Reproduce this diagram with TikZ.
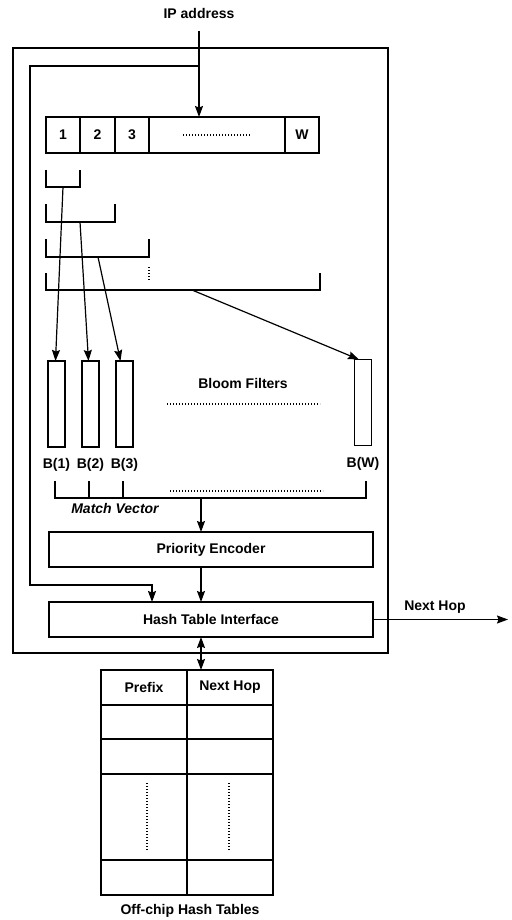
\documentclass[tikz,border=0pt]{standalone}
\usepackage{fontspec}
\setmainfont{Liberation Sans}
\usetikzlibrary{arrows.meta, positioning}

\begin{document}
\begin{tikzpicture}[
    x=1pt, y=-1pt,
    line width=1.2pt,
    every node/.style={font=\fontsize{14}{16}\selectfont\bfseries, inner sep=0pt, outer sep=0pt},
    arrow/.style={-{Stealth[length=11pt,width=8pt,inset=1.5pt]}},
    darrow/.style={{Stealth[length=11pt,width=8pt,inset=1.5pt]}-{Stealth[length=11pt,width=8pt,inset=1.5pt]}},
    cell/.style={draw, minimum height=36pt},
    filter/.style={draw, minimum width=17pt, minimum height=86pt},
    block/.style={draw, minimum width=324pt, minimum height=35pt},
    tabcell/.style={draw, minimum width=86pt},
    dots/.style={line width=1.4pt, dash pattern=on 1.2pt off 1.8pt}
    ]
    \useasboundingbox (0,0) rectangle (511,920);

    % Chip boundary and input
    \node[draw, minimum width=375pt, minimum height=605pt] (chip) at (200.5,350.5) {};
    \node (ip) at (199,13) {IP address};

    % Address bits
    \node[cell, minimum width=34pt] (a1) at (63,135) {1};
    \node[cell, minimum width=35pt, right=0pt of a1] (a2) {2};
    \node[cell, minimum width=34pt, right=0pt of a2] (a3) {3};
    \node[cell, minimum width=136pt, right=0pt of a3] (adots) {};
    \node[cell, minimum width=34pt, right=0pt of adots] (aw) {W};
    \draw[dots] ([xshift=-34pt]adots.center) -- ([xshift=34pt]adots.center);

    % Prefix brackets
    \draw (46,170) -- (46,187) -- (80,187) -- (80,170);
    \draw (46,204) -- (46,222) -- (115,222) -- (115,204);
    \draw (46,239) -- (46,257) -- (149,257) -- (149,239);
    \draw (46,273) -- (46,290) -- (320,290) -- (320,273);
    \draw[dots] (149,267) -- (149,281);
    \coordinate (g1) at (63,187);
    \coordinate (g2) at (80,222);
    \coordinate (g3) at (98,257);
    \coordinate (gw) at (192,290);

    % Bloom filters
    \node[filter] (b1) at (56.5,404) {};
    \node[filter] (b2) at (90.5,404) {};
    \node[filter] (b3) at (124.5,404) {};
    \node[filter] (bw) at (363,402.5) {};
    \node[below=11pt of b1] (lb1) {B(1)};
    \node[below=11pt of b2] (lb2) {B(2)};
    \node[below=11pt of b3] (lb3) {B(3)};
    \node[below=12pt of bw] (lbw) {B(W)};
    \node (bf) at (243,383) {Bloom Filters};
    \draw[dots] (167,404) -- (320,404);

    % Arrows from brackets to filters
    \draw[arrow] (g1) -- ([xshift=-1pt]b1.north);
    \draw[arrow] (g2) -- ([xshift=-2pt]b2.north);
    \draw[arrow] (g3) -- ([xshift=-4pt]b3.north);
    \draw[arrow] (gw) -- ([xshift=-4pt]bw.north);

    % Match vector
    \draw (55,481) -- (55,498) -- (366,498) -- (366,481);
    \draw (89,481) -- (89,498);
    \draw (123,481) -- (123,498);
    \draw[dots] (170,491) -- (323,491);
    \node[font=\fontsize{14}{16}\selectfont\bfseries\itshape] (mvl) at (115,508) {Match Vector};
    \coordinate (mv) at (201,498);

    % Encoder and interface
    \node[block] (pe) at (211,549.5) {Priority Encoder};
    \node[block, below=35pt of pe] (hti) {Hash Table Interface};
    \draw[arrow] (mv) -- (mv |- pe.north);
    \draw[arrow] (mv |- pe.south) -- (mv |- hti.north);

    % Address input and bypass to interface
    \coordinate (split) at (199,66);
    \coordinate (loop) at (30,585);
    \draw[arrow] ([yshift=-13pt]ip.south) -- (ip |- adots.north);
    \draw[arrow] (split) -| (loop) -| ([xshift=-59pt]hti.north);

    % Output
    \coordinate (out) at (508,619.5);
    \draw[arrow] (hti.east) -- (out);
    \node (nh) at (435,607) {Next Hop};

    % Off-chip table
    \node[tabcell, minimum height=35pt] (t1) at (144,687.5) {Prefix};
    \node[tabcell, minimum height=35pt, right=0pt of t1] (t2) {Next Hop};
    \node[tabcell, minimum height=34pt, below=0pt of t1] (r1a) {};
    \node[tabcell, minimum height=34pt, below=0pt of t2] (r1b) {};
    \node[tabcell, minimum height=35pt, below=0pt of r1a] (r2a) {};
    \node[tabcell, minimum height=35pt, below=0pt of r1b] (r2b) {};
    \node[tabcell, minimum height=86pt, below=0pt of r2a] (r3a) {};
    \node[tabcell, minimum height=86pt, below=0pt of r2b] (r3b) {};
    \node[tabcell, minimum height=35pt, below=0pt of r3a] (r4a) {};
    \node[tabcell, minimum height=35pt, below=0pt of r3b] (r4b) {};
    \draw[dots] ([xshift=3pt,yshift=34pt]r3a.center) -- ([xshift=3pt,yshift=-34pt]r3a.center);
    \draw[dots] ([xshift=-1pt,yshift=34pt]r3b.center) -- ([xshift=-1pt,yshift=-34pt]r3b.center);
    \node (tab) at (190,911) {Off-chip Hash Tables};

    % Interface to table
    \draw[darrow] (mv |- hti.south) -- (mv |- t1.north);
\end{tikzpicture}
\end{document}
